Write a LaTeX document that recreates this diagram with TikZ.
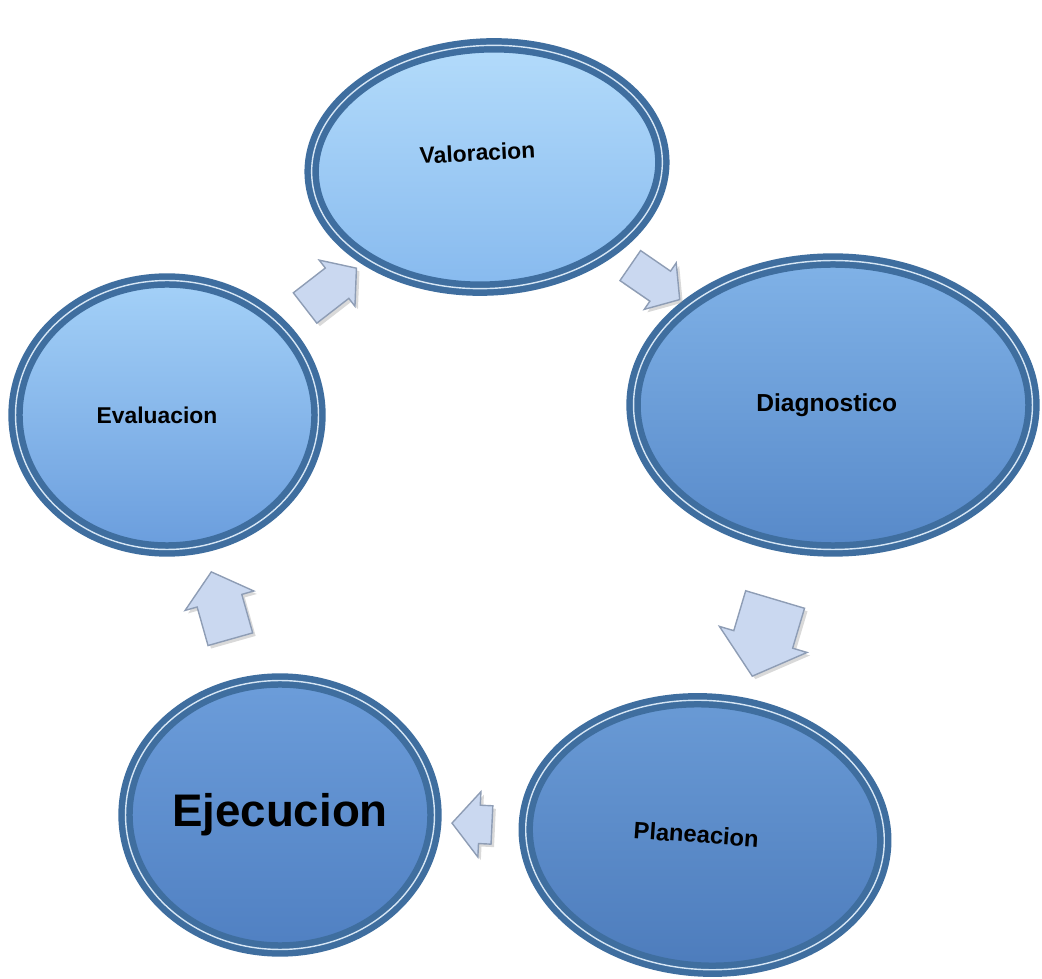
\documentclass[tikz,border=0pt]{standalone}
\usepackage{fontspec}
\setmainfont{Liberation Sans}
\usetikzlibrary{shapes.geometric,shapes.arrows,shadows}
\definecolor{ringblue}{HTML}{3F6E9F}
\definecolor{ringlight}{HTML}{D6E6F5}
\definecolor{arrowfill}{HTML}{CAD8F0}
\definecolor{arrowedge}{HTML}{8E9DB5}
\definecolor{valtop}{HTML}{B4DCFB}
\definecolor{valbot}{HTML}{86B9EE}
\definecolor{diagtop}{HTML}{80B2E7}
\definecolor{diagbot}{HTML}{5789C9}
\definecolor{plantop}{HTML}{6A9BD6}
\definecolor{planbot}{HTML}{4D7CBC}
\definecolor{ejectop}{HTML}{6C9DDA}
\definecolor{ejecbot}{HTML}{5080C2}
\definecolor{evaltop}{HTML}{A4D1F8}
\definecolor{evalbot}{HTML}{6A9DDD}
\tikzset{
  phase/.style={ellipse, inner sep=0pt, draw=ringblue, line width=1.3mm,
    double=ringlight, double distance=0.8pt,
    drop shadow={opacity=0.35, shadow xshift=0.09cm, shadow yshift=-0.09cm},
    font=\bfseries\fontsize{13}{15}\selectfont},
  cyclearrow/.style={single arrow, sloped, allow upside down,
    inner xsep=0pt, inner ysep=0.4cm, single arrow head extend=0.2cm,
    single arrow tip angle=100, minimum height=1.3cm,
    fill=arrowfill, draw=arrowedge, line width=0.8pt,
    drop shadow={opacity=0.3, shadow xshift=0.06cm, shadow yshift=-0.06cm}},
}
\begin{document}
\begin{tikzpicture}[x=0.02cm,y=-0.02cm]
  \useasboundingbox (0,0) rectangle (1042,979);
  % phases of the cycle
  \node[phase, rotate=3, top color=valtop, bottom color=valbot,
        minimum width=7.02cm, minimum height=4.86cm] (val) at (487,167) {\raisebox{0.6cm}{Valoracion}\hspace*{0.35cm}};
  \node[phase, top color=diagtop, bottom color=diagbot,
        minimum width=7.98cm, minimum height=5.78cm,
        font=\bfseries\fontsize{14}{16}\selectfont] (diag) at (833,405) {Diagnostico\hspace*{0.25cm}};
  \node[phase, rotate=-4, top color=plantop, bottom color=planbot,
        minimum width=7.18cm, minimum height=5.38cm,
        font=\bfseries\fontsize{13.5}{16}\selectfont] (plan) at (705,835) {Planeacion\hspace*{0.35cm}};
  \node[phase, top color=ejectop, bottom color=ejecbot,
        minimum width=6.18cm, minimum height=5.38cm,
        font=\bfseries\fontsize{26}{30}\selectfont] (ejec) at (280,815) {Ejecucion};
  \node[phase, top color=evaltop, bottom color=evalbot,
        minimum width=6.06cm, minimum height=5.38cm] (eval) at (167,415) {Evaluacion\hspace*{0.4cm}};

  % arrows between phases
  \path (val) -- node[cyclearrow, inner ysep=0.35cm, minimum height=1.2cm] (a1) {} (diag);
  \path (diag) -- node[cyclearrow, inner ysep=0.6cm, single arrow head extend=0.3cm,
        minimum height=1.6cm] (a2) {} (plan);
  \path (plan) -- node[cyclearrow, inner ysep=0.37cm, single arrow head extend=0.27cm,
        minimum height=0.8cm] (a3) {} (ejec);
  \path (ejec) -- node[cyclearrow, inner ysep=0.45cm, single arrow head extend=0.25cm,
        minimum height=1.4cm] (a4) {} (eval);
  \path (eval) -- node[cyclearrow, inner ysep=0.37cm] (a5) {} (val);
\end{tikzpicture}
\end{document}
